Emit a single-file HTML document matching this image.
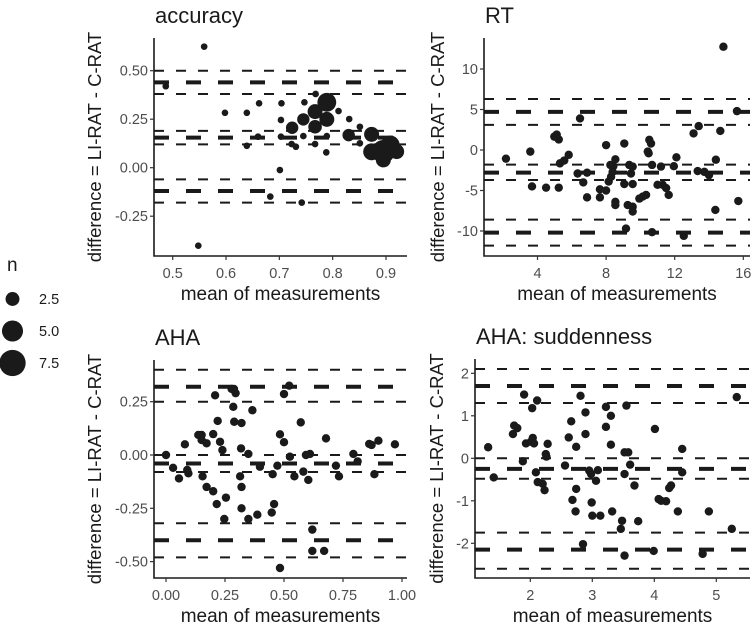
<!DOCTYPE html>
<html><head><meta charset="utf-8"><style>
html,body{margin:0;padding:0;background:#fff;}
svg{display:block;font-family:"Liberation Sans",sans-serif;}
</style></head><body>
<svg id="chart" width="752" height="628" viewBox="0 0 752 628"></svg>
<script>
// ---------- data ----------
const accX=[0.487,0.559,0.598,0.639,0.639,0.66,0.662,0.548,0.704,0.703,0.747,0.768,0.789,0.767,0.745,0.789,0.767,0.724,0.811,0.831,0.83,0.851,0.873,0.851,0.895,0.873,0.908,0.92,0.895,0.703,0.745,0.789,0.66,0.723,0.731,0.767,0.788,0.701,0.683,0.742];
const accY=[0.42,0.624,0.283,0.283,0.113,0.16,0.332,-0.402,0.332,0.246,0.337,0.38,0.337,0.289,0.249,0.249,0.211,0.206,0.292,0.251,0.168,0.211,0.172,0.126,0.083,0.082,0.117,0.083,0.04,0.16,0.163,0.163,0.16,0.122,0.108,0.122,0.079,-0.012,-0.149,-0.18];
const accN=[1,1,1,1,1,1,1,1,1,1,1,1,4.1,2.8,2.1,2.8,2.4,2.1,1,1,2.1,1,2.8,1,5.9,3.4,4.1,2.8,2.8,1,1,1,1,1,1,1,1,1,1,1];
const accLines=[0.50,0.44,0.38,0.19,0.155,0.12,-0.06,-0.12,-0.18];

const rtX=[2.16,3.58,3.68,4.5,4.98,5.12,5.24,5.24,5.31,5.56,5.82,6.48,6.34,6.67,6.89,6.89,7.64,7.64,8.0,8.0,8.15,8.25,8.29,8.38,8.42,8.54,8.54,8.54,9.06,9.06,9.16,9.26,9.35,9.45,9.55,9.55,9.55,9.55,9.94,10.14,10.33,10.43,10.48,10.52,10.62,10.68,10.68,11.2,11.0,11.3,11.5,11.65,12.1,11.95,12.53,13.1,13.4,13.34,13.73,14.0,14.4,14.37,14.66,14.84,15.63,15.71];
const rtY=[-1.07,-0.2,-4.5,-4.65,1.65,1.9,1.3,-4.65,-1.65,-1.3,-0.6,3.9,-2.9,-4.0,-2.8,-5.85,-4.85,-5.85,0.6,-5.0,-3.9,-1.85,-3.3,-2.7,-2.0,-1.15,-6.4,-6.8,0.8,-4.2,-9.7,-6.8,-1.85,-2.9,-2.05,-4.2,-7.0,-7.6,-6.0,-5.75,-5.55,-0.2,-0.4,1.25,0.8,-1.85,-10.15,-2.05,-4.3,-4.3,-4.7,-5.55,-0.9,-2.0,-10.6,2.05,2.95,-2.6,-2.7,-3.1,-1.2,-7.4,2.35,12.75,4.8,-6.3];
const rtLines=[6.3,4.7,3.1,-1.8,-2.8,-3.7,-8.6,-10.2,-11.8];

const ahaX=[0.0,0.03,0.055,0.08,0.09,0.095,0.137,0.151,0.155,0.151,0.172,0.172,0.2,0.2,0.208,0.219,0.215,0.229,0.239,0.254,0.247,0.278,0.288,0.295,0.285,0.289,0.32,0.318,0.314,0.32,0.32,0.349,0.349,0.366,0.387,0.398,0.448,0.458,0.452,0.472,0.483,0.483,0.5,0.5,0.522,0.525,0.544,0.571,0.582,0.593,0.61,0.603,0.62,0.62,0.67,0.678,0.72,0.733,0.794,0.812,0.861,0.871,0.9,0.883,0.97];
const ahaY=[0.0,-0.06,-0.11,0.05,-0.07,-0.086,0.094,0.094,-0.1,0.07,0.055,-0.15,0.098,-0.17,0.28,0.16,-0.23,0.062,0.023,-0.2,-0.3,0.31,0.31,0.29,0.226,0.156,0.15,0.031,-0.1,-0.15,-0.25,-0.3,0.005,0.21,-0.28,-0.055,-0.27,-0.23,-0.09,-0.05,-0.53,0.097,0.06,0.286,0.325,-0.008,-0.1,0.153,-0.078,0.0,0.005,-0.117,-0.35,-0.45,-0.45,0.078,-0.05,-0.1,0.005,-0.03,0.052,0.047,0.067,-0.09,0.05];
const ahaLines=[0.40,0.32,0.25,0.0,-0.04,-0.08,-0.32,-0.40,-0.48];

const sudX=[1.32,1.41,1.72,1.74,1.79,1.9,1.88,1.93,2.01,2.03,2.04,2.06,2.11,2.09,2.12,2.2,2.23,2.25,2.28,2.26,2.56,2.62,2.66,2.68,2.74,2.73,2.74,2.81,2.85,2.89,2.89,2.95,2.98,2.99,3.0,3.06,3.09,3.13,3.22,3.22,3.3,3.3,3.32,3.48,3.46,3.52,3.58,3.52,3.55,3.61,3.52,3.68,3.74,4.01,3.99,4.07,4.11,4.19,4.24,4.27,4.38,4.45,4.45,4.78,4.88,5.25,5.33];
const sudY=[0.26,-0.45,0.57,0.77,0.71,1.5,-0.07,0.35,0.39,1.18,0.48,0.35,1.36,-0.33,-0.56,-0.6,-0.75,0.1,0.34,0.04,-0.17,0.49,0.87,-0.98,-0.72,-1.25,0.27,1.47,-2.02,1.08,0.57,-0.29,-0.37,-1.04,-1.35,-0.53,-0.28,-1.35,1.21,0.74,1.0,0.32,-1.25,-1.47,-1.66,0.14,0.14,-0.37,1.24,-0.15,-2.29,-0.64,-1.48,0.69,-2.18,-0.96,-1.0,-1.01,-0.7,-0.64,-1.25,0.22,-0.33,-2.25,-1.25,-1.66,1.44];
const sudLines=[2.1,1.7,1.3,0.0,-0.25,-0.48,-1.75,-2.15,-2.6];

const accXTicks=[0.5,0.6,0.7,0.8,0.9], accXLabels=["0.5","0.6","0.7","0.8","0.9"];
const accYTicks=[0.5,0.25,0,-0.25], accYLabels=["0.50","0.25","0.00","-0.25"];
const rtXTicks=[4,8,12,16], rtXLabels=["4","8","12","16"];
const rtYTicks=[10,5,0,-5,-10], rtYLabels=["10","5","0","-5","-10"];
const ahaXTicks=[0,0.25,0.5,0.75,1], ahaXLabels=["0.00","0.25","0.50","0.75","1.00"];
const ahaYTicks=[0.25,0,-0.25,-0.5], ahaYLabels=["0.25","0.00","-0.25","-0.50"];
const sudXTicks=[2,3,4,5], sudXLabels=["2","3","4","5"];
const sudYTicks=[2,1,0,-1,-2], sudYLabels=["2","1","0","-1","-2"];
const legendN=[2.5,5.0,7.5], legendLabels=["2.5","5.0","7.5"];

// ---------- drawing ----------
const NS="http://www.w3.org/2000/svg";
const svg=document.getElementById('chart');
function mk(tag,attrs,parent){const e=document.createElementNS(NS,tag);for(const k in attrs)e.setAttribute(k,attrs[k]);(parent||svg).appendChild(e);return e;}
function rOf(n){return Math.sqrt(11+25*(n-1));}
function lin(d0,d1,r0,r1){return v=>r0+(v-d0)*(r1-r0)/(d1-d0);}

function panel(o){
  const g=mk('g',{});
  
  
  const sx=lin(o.xd[0],o.xd[1],o.xr[0],o.xr[1]);
  const sy=lin(o.yd[0],o.yd[1],o.yr[0],o.yr[1]);
  o.lines.forEach((v,i)=>{
    const thick=(i%3===1);
    const l=mk('line',{x1:o.L,x2:o.R,y1:sy(v),y2:sy(v),stroke:'#1a1a1a','stroke-width':thick?4:2,'stroke-dasharray':thick?'15 17':'10 12'},g);
    
    
  });
  o.x.forEach((xv,i)=>{
    const c=mk('circle',{cx:sx(xv),cy:sy(o.y[i]),r:o.n?rOf(o.n[i]):4.2,fill:'#1a1a1a'},g);
    
    
  });
  const ax=mk('path',{d:`M${o.L},${o.T}V${o.B}H${o.R}`,fill:'none',stroke:'#1a1a1a','stroke-width':1.6},g);
  
  
  o.xt.forEach((v,i)=>{
    mk('line',{x1:sx(v),x2:sx(v),y1:o.B,y2:o.B+4,stroke:'#333','stroke-width':1.2},g);
    const t=mk('text',{x:sx(v),y:o.B+22,'text-anchor':'middle','font-size':14.5,fill:'#4d4d4d'},g);
    t.textContent=o.xl[i];
    
    
  });
  o.yt.forEach((v,i)=>{
    mk('line',{x1:o.L-4,x2:o.L,y1:sy(v),y2:sy(v),stroke:'#333','stroke-width':1.2},g);
    const t=mk('text',{x:o.L-6,y:sy(v)+5,'text-anchor':'end','font-size':14.5,fill:'#4d4d4d'},g);
    t.textContent=o.yl[i];
    
    
  });
  const tt=mk('text',{x:o.L+1,y:o.T-15,'font-size':22,fill:'#1a1a1a'},g);
  tt.textContent=o.title;
  
  
  const xt=mk('text',{x:(o.L+o.R)/2,y:o.B+44,'text-anchor':'middle','font-size':19,fill:'#1a1a1a'},g);
  xt.textContent='mean of measurements';
  
  
  const cy=(o.T+o.B)/2;
  const yt=mk('text',{x:o.ytx,y:cy,'text-anchor':'middle','font-size':18.5,fill:'#1a1a1a',transform:`rotate(-90 ${o.ytx} ${cy})`},g);
  yt.textContent='difference = LI-RAT - C-RAT';
  
  
}

panel({name:'accuracy',title:'accuracy',L:154,R:407,T:38,B:256,xd:[0.5,0.9],xr:[172.7,386],yd:[0,0.25],yr:[167.7,119.2],
  x:accX,y:accY,n:accN,lines:accLines,xt:accXTicks,xl:accXLabels,yt:accYTicks,yl:accYLabels,ytx:101});
panel({name:'rt',title:'RT',L:484,R:750,T:38,B:256,xd:[4,16],xr:[537.5,743.3],yd:[0,5],yr:[150,109.5],
  x:rtX,y:rtY,lines:rtLines,xt:rtXTicks,xl:rtXLabels,yt:rtYTicks,yl:rtYLabels,ytx:444});
panel({name:'aha',title:'AHA',L:154,R:407,T:360,B:578,xd:[0,1],xr:[166,402],yd:[0,0.25],yr:[455,401.7],
  x:ahaX,y:ahaY,lines:ahaLines,xt:ahaXTicks,xl:ahaXLabels,yt:ahaYTicks,yl:ahaYLabels,ytx:101});
panel({name:'aha-suddenness',title:'AHA: suddenness',L:475,R:750,T:359,B:578,xd:[2,5],xr:[530.3,716.3],yd:[0,1],yr:[458.3,415.8],
  x:sudX,y:sudY,lines:sudLines,xt:sudXTicks,xl:sudXLabels,yt:sudYTicks,yl:sudYLabels,ytx:443});

const lg=mk('g',{});


const lt=mk('text',{x:7,y:271,'font-size':19,fill:'#1a1a1a'},lg);
lt.textContent='n';


legendN.forEach((n,i)=>{
  const y=299+i*32;
  const c=mk('circle',{cx:12.5,cy:y,r:rOf(n),fill:'#1a1a1a'},lg);
  
  
  const t=mk('text',{x:39,y:y+5,'font-size':14.5,fill:'#1a1a1a'},lg);
  t.textContent=legendLabels[i];
  
  
});
</script>
</body></html>
